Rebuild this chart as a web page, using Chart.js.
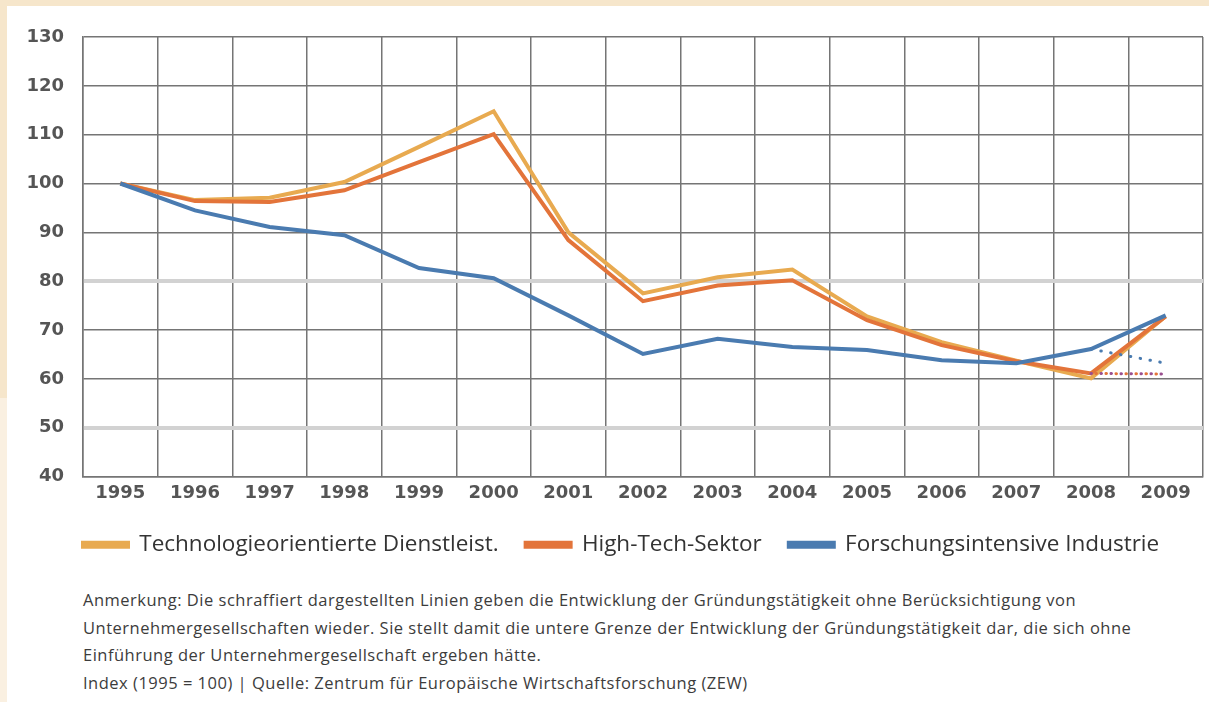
<!DOCTYPE html>
<html>
<head>
<meta charset="utf-8">
<script src="https://cdn.jsdelivr.net/npm/chart.js@4/dist/chart.umd.min.js"></script>
<style>
    body { margin: 0; background: #fff; width: 1209px; height: 702px; overflow: hidden; position: relative; }
    .band-top { position: absolute; left: 0; top: 0; width: 1209px; height: 6px; background: #f6e6cb; }
    .band-left { position: absolute; left: 0; top: 0; width: 7px; height: 398px; background: #f6e6cb; }
    .band-left2 { position: absolute; left: 0; top: 398px; width: 7px; height: 304px; background: #faf0e1; }
    #wrap { position: absolute; left: 0; top: 0; width: 1209px; height: 566px; }
    .note { position: absolute; left: 83px; top: 586px; font-family: "Open Sans", sans-serif; font-size: 16.5px; line-height: 27.5px; color: #3c3c3c; letter-spacing: 0.5px; white-space: nowrap; }
</style>
</head>
<body>
<div class="band-top"></div>
<div class="band-left"></div>
<div class="band-left2"></div>
<div id="wrap"><canvas id="chart"></canvas></div>
<div class="note">
    Anmerkung: Die schraffiert dargestellten Linien geben die Entwicklung der Gründungstätigkeit ohne Berücksichtigung von<br>
    Unternehmergesellschaften wieder. Sie stellt damit die untere Grenze der Entwicklung der Gründungstätigkeit dar, die sich ohne<br>
    Einführung der Unternehmergesellschaft ergeben hätte.<br>
    Index (1995 = 100) | Quelle: Zentrum für Europäische Wirtschaftsforschung (ZEW)
</div>
<script>
    // Jahre (x-Achse)
    const years = ['1995', '1996', '1997', '1998', '1999', '2000', '2001', '2002', '2003', '2004', '2005', '2006', '2007', '2008', '2009'];

    // Index 1995 = 100
    const dienstleist = [100, 96.6, 97.1, 100.3, 107.5, 114.8, 90.0, 77.5, 80.8, 82.4, 72.8, 67.5, 63.7, 60.1, 72.8];
    const highTech = [100, 96.4, 96.2, 98.6, 104.4, 110.1, 88.4, 75.9, 79.1, 80.2, 72.0, 66.9, 63.6, 61.1, 72.8];
    const forschung = [100, 94.5, 91.1, 89.4, 82.7, 80.6, 73.0, 65.1, 68.2, 66.5, 65.9, 63.8, 63.2, 66.1, 73.0];

    // schraffierte Linien (ohne Unternehmergesellschaften)
    const forschungOhneUG = [null, null, null, null, null, null, null, null, null, null, null, null, null, 66.1, 63.2];
    const highTechOhneUG = [null, null, null, null, null, null, null, null, null, null, null, null, null, 61.1, 61.0];

    const yTicks = [40, 50, 60, 70, 80, 90, 100, 110, 120, 130];
    const lightLines = [50, 80];

    const legendNames = ['Technologieorientierte Dienstleist.', 'High-Tech-Sektor', 'Forschungsintensive Industrie'];

    const cLight = '#e8aa50';
    const cOrange = '#e3743a';
    const cBlue = '#4a7bb0';
    const cPurple = '#9a4f8f';

    function solid(label, data, color) {
        return {
            label: label,
            data: data,
            borderColor: color,
            backgroundColor: color,
            borderWidth: 4,
            pointRadius: 0,
            tension: 0,
            fill: false
        };
    }

    function dotted(data, color, offset) {
        return {
            label: '',
            data: data,
            borderColor: color,
            backgroundColor: color,
            borderWidth: 3,
            borderDash: [0.5, 9.5],
            borderDashOffset: offset,
            borderCapStyle: 'round',
            pointRadius: 0,
            tension: 0,
            fill: false
        };
    }

    // Legende an der Plotkante ausrichten
    const legendShift = {
        id: 'legendShift',
        beforeDraw(chart) {
            chart.legend.left = 56;
        }
    };

    const tickColor = '#555';

    new Chart(document.getElementById('chart'), {
        type: 'line',
        data: {
            labels: years,
            datasets: [
                dotted(forschungOhneUG, cBlue, 0),
                dotted(highTechOhneUG, cOrange, 5),
                dotted(highTechOhneUG, cPurple, 0),
                solid(legendNames[2], forschung, cBlue),
                solid(legendNames[1], highTech, cOrange),
                solid(legendNames[0], dienstleist, cLight)
            ]
        },
        plugins: [legendShift],
        options: {
            responsive: true,
            maintainAspectRatio: false,
            animation: false,
            layout: { padding: { left: 0, right: 6, top: 37, bottom: 0 } },
            plugins: {
                tooltip: { enabled: false },
                legend: {
                    position: 'bottom',
                    align: 'start',
                    labels: {
                        boxWidth: 45,
                        boxHeight: 4,
                        padding: 27,
                        color: '#333',
                        font: { family: 'Open Sans', size: 22.5 },
                        filter: item => item.text !== '',
                        sort: (a, b) => legendNames.indexOf(a.text) - legendNames.indexOf(b.text)
                    }
                }
            },
            scales: {
                x: {
                    offset: true,
                    afterFit: axis => { axis.height = 30; },
                    grid: {
                        offset: true,
                        color: '#757575',
                        lineWidth: 1.5,
                        drawTicks: false
                    },
                    border: { color: '#757575', width: 1.5 },
                    ticks: {
                        color: tickColor,
                        padding: 6,
                        maxRotation: 0,
                        font: { family: 'DejaVu Sans', weight: 'bold', size: 18 }
                    }
                },
                y: {
                    min: 40,
                    max: 130,
                    afterFit: axis => { axis.width = 83; },
                    afterBuildTicks: axis => { axis.ticks = yTicks.map(v => ({ value: v })); },
                    grid: {
                        drawTicks: false,
                        color: ctx => lightLines.includes(ctx.tick.value) ? '#d2d2d2' : '#757575',
                        lineWidth: ctx => lightLines.includes(ctx.tick.value) ? 4 : 1.5
                    },
                    border: { color: '#757575', width: 1.5 },
                    ticks: {
                        color: tickColor,
                        padding: 19,
                        font: { family: 'DejaVu Sans', weight: 'bold', size: 18 }
                    }
                }
            }
        }
    });
</script>
</body>
</html>
